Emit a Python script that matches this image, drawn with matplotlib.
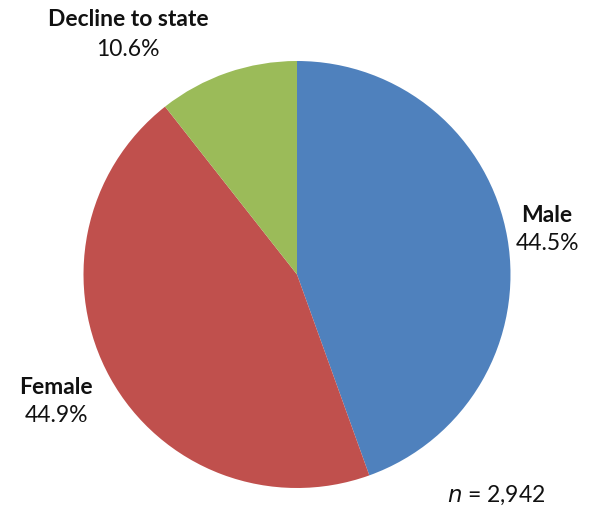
import matplotlib.pyplot as plt

# data
labels = ["Male", "Female", "Decline to state"]
shares = [44.5, 44.9, 10.6]
colors = ["#4F81BD", "#C0504D", "#9BBB59"]
n_total = "2,942"

W, H = 597, 516
fig = plt.figure(figsize=(W / 100, H / 100), dpi=100)
plt.rcParams['font.family'] = ['Lato', 'DejaVu Sans']

# pie centre and radius in pixels
cx, cy, r = 297, 274.5, 213.5
ax = fig.add_axes([(cx - r) / W, 1 - (cy + r) / H, 2 * r / W, 2 * r / H])
ax.pie(shares, colors=colors, startangle=90, counterclock=False, radius=1,
       wedgeprops=dict(linewidth=0))
ax.set_xlim(-1, 1)
ax.set_ylim(-1, 1)
ax.set_aspect('auto')
ax.axis('off')

# label positions (pixels)
label_pos = {"Male": (547, 215), "Female": (56, 387), "Decline to state": (128, 20)}
for lab, val in zip(labels, shares):
    x, y = label_pos[lab]
    fig.text(x / W, 1 - y / H, lab, ha='center', va='center',
             fontsize=16.5, fontweight='bold', color='#111111')
    fig.text(x / W, 1 - (y + 29) / H, f"{val:.1f}%", ha='center', va='center',
             fontsize=16.5, color='#111111')

fig.text(496 / W, 1 - 495 / H, r"$\it{n}$ = " + n_total, ha='center', va='center',
         fontsize=16.5, color='#111111')

fig.savefig("out.png", dpi=100)
